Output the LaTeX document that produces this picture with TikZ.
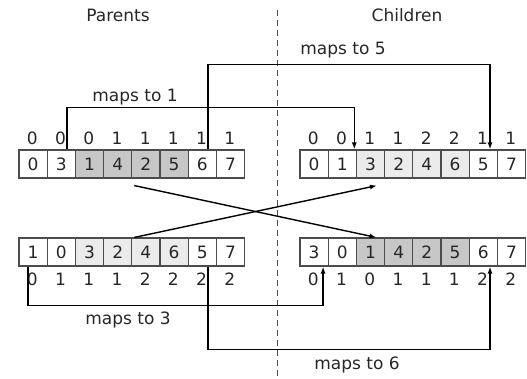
\documentclass[tikz,border=0pt]{standalone}
\usepackage{fontspec}
\setmainfont{DejaVu Sans}
\usetikzlibrary{arrows.meta}

\definecolor{darkcell}{gray}{0.78}
\definecolor{lightcell}{gray}{0.92}

\tikzset{
  cell/.style={draw=black!70, line width=1.1pt, minimum width=28.2pt, minimum height=28pt, inner sep=0pt},
  link/.style={line width=1.4pt, -{Latex[length=7pt,width=5pt]}},
  divider/.style={black!70, line width=1pt, dash pattern=on 6pt off 4pt},
}

\begin{document}
\begin{tikzpicture}[x=1pt, y=-1pt, font=\fontsize{17}{20}\selectfont, text=black!85]
    \useasboundingbox (0,0) rectangle (527,378);

    % headings and the dividing line
    \node (parents) at (118,15) {Parents};
    \node (children) at (407,15) {Children};
    \coordinate (divtop) at (277,10);
    \coordinate (divbot) at (277,378);
    \draw[divider] (divtop) -- (divbot);

    % parent rows
    \foreach \v/\f [count=\i] in {0/white,3/white,1/darkcell,4/darkcell,2/darkcell,5/darkcell,6/white,7/white}
        \node[cell, fill=\f] (pa\i) at ({33.1+28.2*(\i-1)},164) {\v};
    \foreach \v/\f [count=\i] in {1/white,0/white,3/lightcell,2/lightcell,4/lightcell,6/lightcell,5/white,7/white}
        \node[cell, fill=\f] (pb\i) at ({33.1+28.2*(\i-1)},252) {\v};

    % child rows
    \foreach \v/\f [count=\i] in {0/white,1/white,3/lightcell,2/lightcell,4/lightcell,6/lightcell,5/white,7/white}
        \node[cell, fill=\f] (ca\i) at ({314.1+28.2*(\i-1)},164) {\v};
    \foreach \v/\f [count=\i] in {3/white,0/white,1/darkcell,4/darkcell,2/darkcell,5/darkcell,6/white,7/white}
        \node[cell, fill=\f] (cb\i) at ({314.1+28.2*(\i-1)},252) {\v};

    % counts above / below each row
    \foreach \v [count=\i] in {0,0,0,1,1,1,1,1}
        \node (pacnt\i) at ({32.4+28.2*(\i-1)},138) {\v};
    \foreach \v [count=\i] in {0,0,1,1,2,2,1,1}
        \node (cacnt\i) at ({313.4+28.2*(\i-1)},138) {\v};
    \foreach \v [count=\i] in {0,1,1,1,2,2,2,2}
        \node (pbcnt\i) at ({32.4+28.2*(\i-1)},279) {\v};
    \foreach \v [count=\i] in {0,1,0,1,1,1,2,2}
        \node (cbcnt\i) at ({313.4+28.2*(\i-1)},279) {\v};

    % mappings
    \draw[link] ([xshift=5.5pt]pa2.north) -- ++(0,-42) -| ([xshift=12pt]ca2.north);
    \node (map1) at (135,97) {maps to 1};
    \draw[link] ([xshift=5.5pt]pa7.north) -- ++(0,-85) -| ([xshift=6.7pt]ca7.north);
    \node (map5) at (343,50) {maps to 5};
    \draw[link] ([xshift=-5pt]pb1.south) -- ++(0,39) -| ([xshift=9pt]cb1.south);
    \node (map3) at (128,320) {maps to 3};
    \draw[link] ([xshift=5.5pt]pb7.south) -- ++(0,83) -| ([xshift=6.7pt]cb7.south);
    \node (map6) at (357,365) {maps to 6};

    % crossover of the middle sections
    \draw[link] ([shift={(3pt,-7pt)}]pa5.south west) -- ([xshift=6pt]cb3.north);
    \draw[link] ([xshift=3pt]pb5.north west) -- ([shift={(6.5pt,-7pt)}]ca3.south);
\end{tikzpicture}
\end{document}
